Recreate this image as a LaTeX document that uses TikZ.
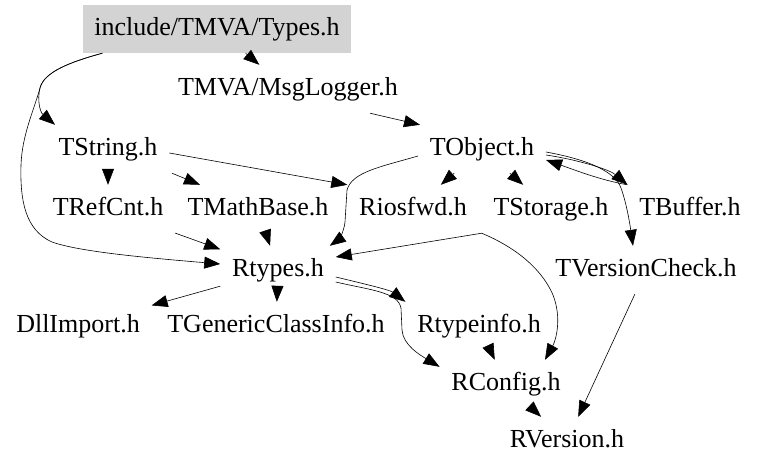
\documentclass[tikz,border=0pt]{standalone}
\usepackage{fontspec}
\setmainfont{Liberation Serif}
\usetikzlibrary{arrows.meta}
\definecolor{boxgray}{RGB}{211,211,211}
\tikzset{
  n/.style={inner xsep=11.7pt, inner ysep=12.3pt, text height=17.8pt, text depth=5.6pt, font=\fontsize{26}{30}\selectfont},
  e/.style={-{Triangle[length=16pt,width=12pt]}, line width=0.6pt}
}
\begin{document}
\begin{tikzpicture}[x=1pt,y=-1pt]
\useasboundingbox (0,0) rectangle (757,469);
\node[n,fill=boxgray] (types) at (217,29) {include/TMVA/Types.h};
\node[n] (msg) at (288,89) {TMVA/MsgLogger.h};
\node[n] (tstring) at (108,149) {TString.h};
\node[n] (tobject) at (482,149) {TObject.h};
\node[n] (trefcnt) at (108,209) {TRefCnt.h};
\node[n] (tmath) at (258,209) {TMathBase.h};
\node[n] (riosfwd) at (413,209) {Riosfwd.h};
\node[n] (tstorage) at (551,209) {TStorage.h};
\node[n] (tbuffer) at (690,209) {TBuffer.h};
\node[n] (rtypes) at (278,270) {Rtypes.h};
\node[n] (tvc) at (646,270) {TVersionCheck.h};
\node[n] (dll) at (78,326) {DllImport.h};
\node[n] (tgci) at (276,326) {TGenericClassInfo.h};
\node[n] (rtypeinfo) at (479,326) {Rtypeinfo.h};
\node[n] (rconfig) at (506,384) {RConfig.h};
\node[n] (rversion) at (567,441) {RVersion.h};

\draw[e] (types) -- (msg);
\draw[e] ([xshift=20pt]types.south west) .. controls (70,62) and (44,72) .. (40,88) .. controls (37,100) and (40,112) .. ([xshift=-53pt]tstring.north);
\draw[e] ([xshift=20pt]types.south west) .. controls (70,62) and (44,72) .. (40,88) .. controls (34,110) and (22,135) .. (21,165) .. controls (20,200) and (25,230) .. (52,242) .. controls (80,252) and (150,258) .. ([yshift=6pt]rtypes.west);
\draw[e] ([xshift=82pt]msg.south) -- ([xshift=-62pt]tobject.north);
\draw[e] (tstring) -- (trefcnt);
\draw[e] ([xshift=64pt]tstring.south) -- ([xshift=-58pt]tmath.north);
\draw[e] ([yshift=-4pt]tstring.east) -- (riosfwd.north west);
\draw[e] (tobject) -- (riosfwd);
\draw[e] (tobject) -- (tstorage);
\draw[e] ([yshift=-7pt]tobject.west) .. controls (380,167) and (352,172) .. (347,190) -- (345,222) .. controls (344,232) and (338,240) .. ([xshift=-6pt]rtypes.north east);
\draw[e] ([yshift=-6pt]tobject.east) .. controls (580,160) and (610,170) .. (tbuffer.north west);
\draw[e] (tbuffer.north west) .. controls (600,180) and (575,170) .. ([yshift=-11pt]tobject.east);
\draw[e] ([yshift=-3pt]tobject.east) .. controls (590,160) and (615,172) .. (621,188) .. controls (627,205) and (630,225) .. ([xshift=-13pt]tvc.north);
\draw[e] (tstorage.south west) -- ([yshift=13pt]rtypes.east);
\draw[e] (tstorage.south west) .. controls (510,245) and (540,265) .. (553,295) .. controls (562,318) and (556,340) .. ([xshift=39pt]rconfig.north);
\draw[e] (trefcnt) -- (rtypes);
\draw[e] (tmath) -- (rtypes);
\draw[e] (rtypes) -- (dll);
\draw[e] (rtypes) -- (tgci);
\draw[e] ([yshift=-7pt]rtypes.east) .. controls (365,284) and (390,290) .. (rtypeinfo.north west);
\draw[e] ([yshift=-12pt]rtypes.east) .. controls (370,290) and (398,292) .. (401,308) -- (402,330) .. controls (403,345) and (420,355) .. ([yshift=-7pt]rconfig.north west);
\draw[e] (rtypeinfo) -- (rconfig);
\draw[e] (rconfig) -- (rversion);
\draw[e] (tvc) -- (rversion);
\end{tikzpicture}
\end{document}
